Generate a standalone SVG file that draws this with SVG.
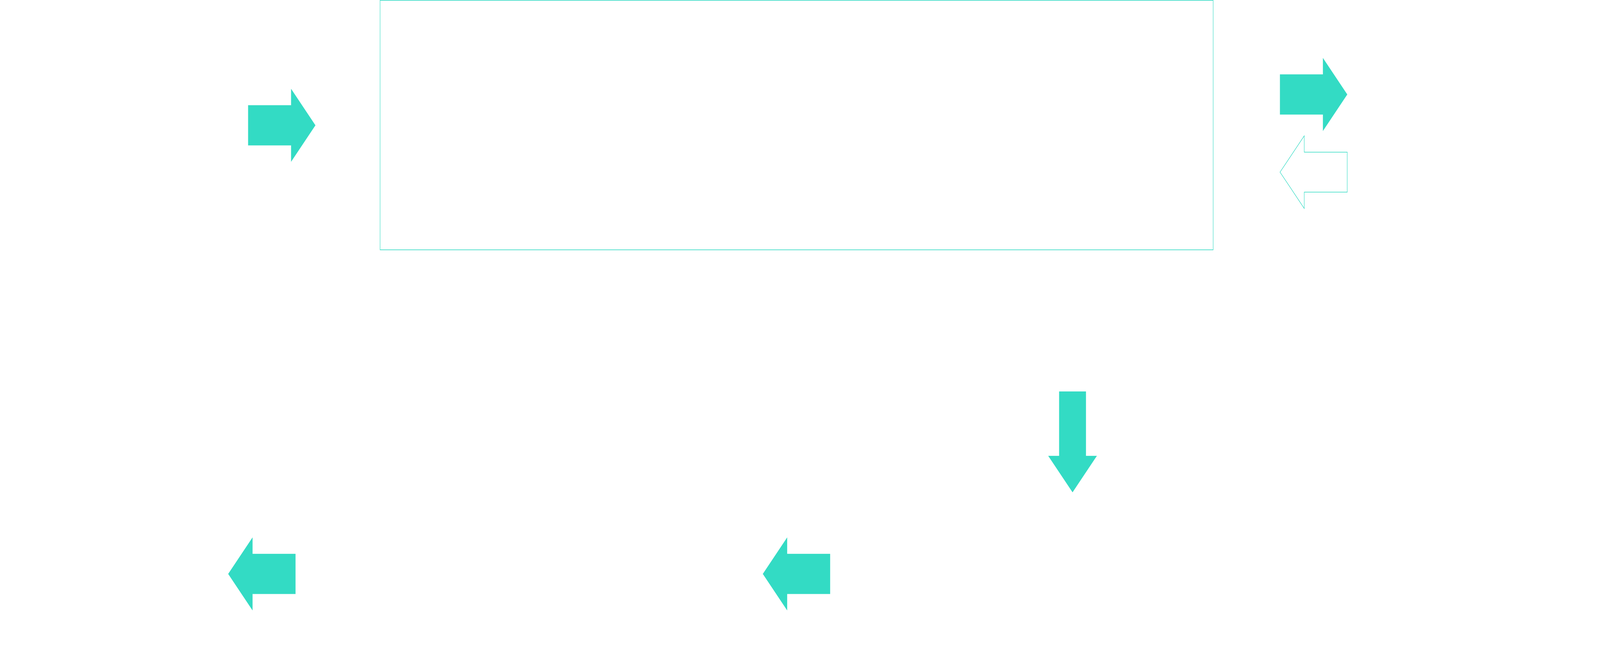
<svg xmlns="http://www.w3.org/2000/svg" xmlns:xlink="http://www.w3.org/1999/xlink" width="6144" height="1678" viewBox="0 0 6144 1678" preserveAspectRatio="none">
  <style>
    svg:root { width: 100vw; height: 100vh; }
    .bg { fill: #ffffff; }
    .box { fill: #ffffff; stroke: #33dbc4; stroke-width: 1.6; }
    .solid { fill: #33dbc4; stroke: #33dbc4; stroke-width: 0.5; }
    .hollow { fill: #ffffff; stroke: #33dbc4; stroke-width: 1.6; stroke-linejoin: miter; }
  </style>
  <defs>
    <path id="blockArrow" d="M0,-51.3 H165 V-93 L258,0 L165,93 V51.3 H0 Z"/>
  </defs>
  <rect class="bg" x="0" y="0" width="6144" height="1678"/>

  <g id="main-box">
    <rect class="box" x="1459.5" y="0.8" width="3199" height="639.2"/>
  </g>

  <g id="connectors">
    <g id="arrow-in-left">
      <use xlink:href="#blockArrow" class="solid" transform="translate(953,321)"/>
    </g>
    <g id="arrow-out-right">
      <use xlink:href="#blockArrow" class="solid" transform="translate(4915.3,242)"/>
    </g>
    <g id="arrow-back-right">
      <use xlink:href="#blockArrow" class="hollow" transform="translate(5173.3,441) rotate(180)"/>
    </g>
    <g id="arrow-down">
      <use xlink:href="#blockArrow" class="solid" transform="translate(4118.6,1003) rotate(90)"/>
    </g>
    <g id="arrow-bottom-middle">
      <use xlink:href="#blockArrow" class="solid" transform="translate(3187.5,1470.3) rotate(180)"/>
    </g>
    <g id="arrow-bottom-left">
      <use xlink:href="#blockArrow" class="solid" transform="translate(1134.5,1470.3) rotate(180)"/>
    </g>
  </g>
</svg>
